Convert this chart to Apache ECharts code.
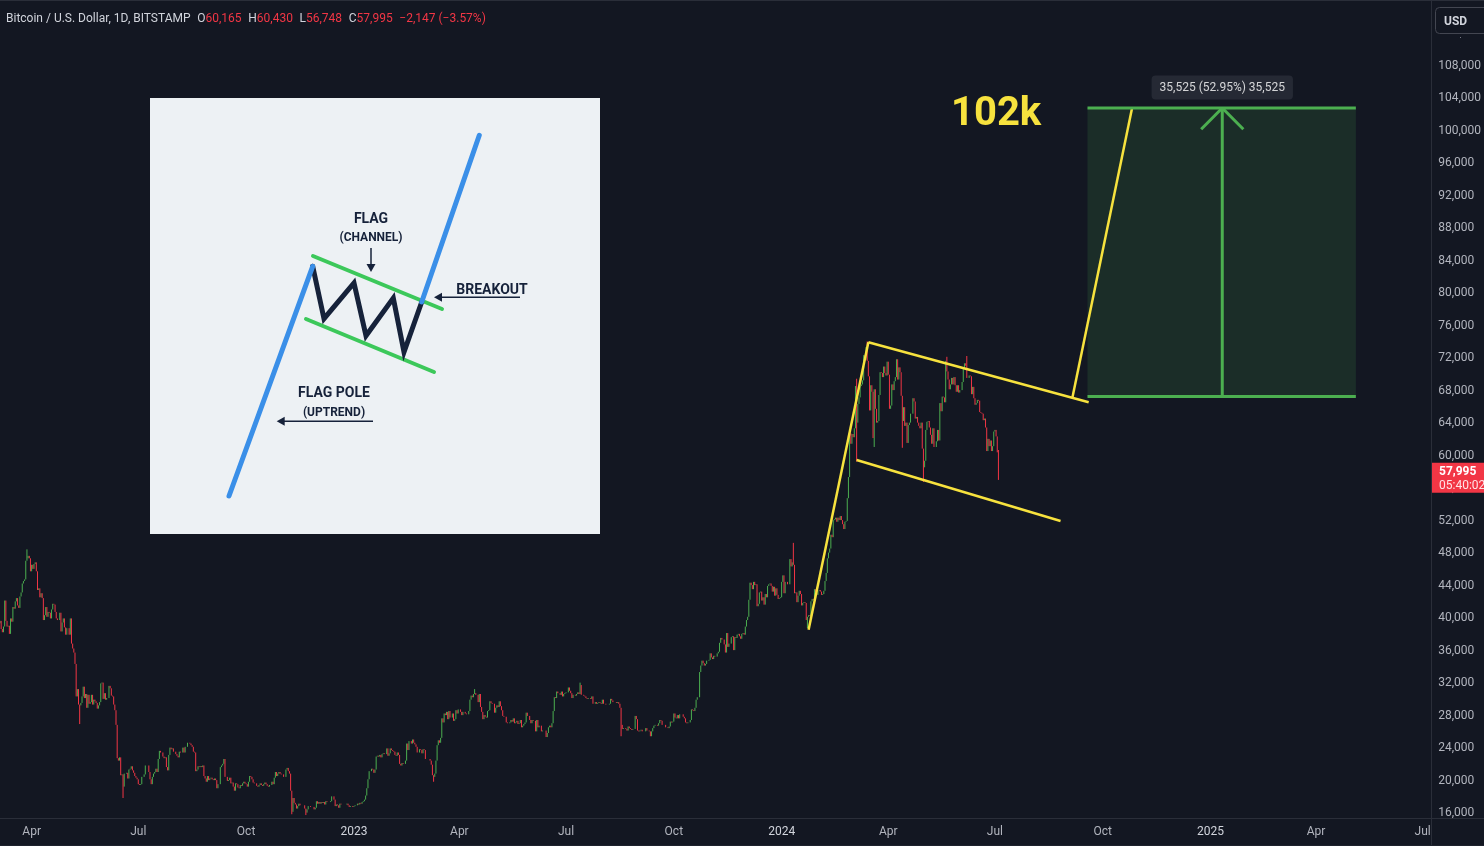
<!DOCTYPE html>
<html><head><meta charset="utf-8">
<script src="https://cdn.jsdelivr.net/npm/echarts@6/dist/echarts.min.js"></script>
<style>html,body{margin:0;padding:0;background:#131722;}#c{width:1484px;height:846px;}</style>
</head><body><div id="c"></div>
<script>
// ---------- DATA ----------
const startDate = '2022-03-05';
const firstOpen = 39100; // close of 2022-03-04
// daily closes in thousands USD
const close2022 = [
 39.4,38.4,38.0,38.7,41.9,39.4,38.7,38.8,37.8,39.7,39.3,41.1,40.9,41.8,42.2,41.3,41.0,42.4,42.9,44.0,44.3,44.5,46.8,47.1,47.4,47.1,45.5,
 46.3,45.8,46.4,46.6,45.5,43.2,43.4,42.3,42.8,42.2,39.5,40.1,41.1,39.9,40.5,40.4,39.7,40.8,41.5,41.4,40.5,39.7,39.5,39.5,40.4,38.1,39.2,39.7,38.6,37.7,
 38.5,38.5,37.7,39.7,36.6,36.0,35.5,34.1,30.1,31.0,29.1,29.0,29.3,30.1,31.3,29.9,30.4,28.7,30.3,29.2,29.4,30.3,29.1,29.7,29.5,29.3,28.6,29.0,29.4,31.7,31.8,
 29.8,30.5,29.7,29.9,29.9,31.4,31.1,30.2,30.1,29.1,28.4,26.6,22.5,22.2,22.6,20.4,20.5,19.0,20.6,20.6,20.7,20.0,21.1,21.2,21.5,21.0,20.7,20.3,20.1,19.9,
 19.3,19.2,19.3,20.2,20.2,20.5,21.6,21.6,21.6,20.8,19.9,19.3,20.2,20.6,20.8,21.2,20.8,22.4,23.4,23.2,23.2,22.7,22.5,22.6,21.4,21.0,22.9,23.8,23.6,23.7,23.3,
 23.3,23.0,22.8,22.6,23.3,23.2,23.2,23.8,23.2,23.9,23.9,24.4,24.4,24.3,24.1,23.9,23.3,23.2,20.9,21.1,21.5,21.4,21.5,21.4,21.6,20.3,20.0,19.6,20.3,19.8,20.0,
 20.1,19.9,19.8,20.0,19.8,18.8,19.3,19.3,21.4,21.6,21.8,22.4,20.2,20.2,19.7,19.8,20.1,19.4,19.5,19.0,18.5,19.4,19.3,18.9,18.8,19.2,19.1,19.4,19.6,19.4,
 19.3,19.0,19.6,20.3,20.2,19.9,19.5,19.4,19.4,19.1,19.0,19.2,19.4,19.2,19.1,19.3,19.5,19.3,19.1,19.0,19.2,19.2,19.6,19.3,20.1,20.8,20.3,20.6,20.8,20.6,20.5,
 20.5,20.2,20.2,21.1,21.3,20.9,20.6,18.5,15.9,17.6,17.0,16.8,16.3,16.6,16.9,16.7,16.7,16.7,16.7,16.3,15.8,16.2,16.6,16.6,16.5,16.5,16.5,16.2,16.4,17.2,
 16.9,17.1,16.9,17.1,17.0,17.1,16.8,17.2,17.1,17.1,17.1,17.2,17.8,17.8,17.4,16.6,16.8,16.7,16.4,16.9,16.8,16.8,16.8,16.8,16.8,16.9,16.7,16.5,16.6,16.6,16.5
];
const close2023 = [
 16.6,16.7,16.7,16.9,16.8,17.0,16.9,17.1,17.2,17.4,17.9,18.8,19.9,20.9,20.9,21.2,21.1,20.7,21.1,22.7,22.8,22.7,22.9,22.6,23.0,23.1,23.0,23.0,23.7,22.8,23.1,
 23.7,23.5,23.4,23.3,22.9,22.8,23.2,22.9,21.8,21.6,21.9,21.8,21.8,22.2,24.3,23.5,24.6,24.6,24.3,24.8,24.4,24.2,23.9,23.2,23.2,23.6,23.5,23.1,
 23.6,23.5,22.4,22.4,22.4,22.4,22.2,21.7,20.4,20.2,20.6,22.2,24.1,24.7,24.4,25.0,27.4,26.9,28.0,27.8,28.2,27.3,28.3,27.5,27.5,28.0,27.1,27.3,28.4,28.0,28.5,
 28.5,28.2,27.8,28.2,28.2,28.0,27.9,27.9,28.3,29.7,30.2,30.0,30.4,30.5,30.3,30.3,29.4,30.4,28.8,28.2,27.3,27.8,27.6,27.5,28.3,28.4,29.5,29.3,29.2,29.2,
 28.1,28.7,29.0,28.8,29.5,28.9,28.4,27.7,27.6,27.6,26.9,26.8,26.8,26.9,27.2,27.0,27.4,26.8,26.9,27.1,26.7,26.8,27.2,26.3,26.5,26.7,26.9,28.1,27.7,27.7,27.2,
 26.8,27.2,27.1,27.1,25.8,27.2,26.3,26.5,26.5,25.8,25.9,25.9,25.9,25.1,25.6,26.3,26.5,26.3,26.8,28.3,30.0,29.9,30.7,30.5,30.5,30.3,30.7,30.1,30.4,30.5,
 30.6,30.6,31.2,30.8,30.5,29.9,30.3,30.3,30.2,30.4,30.6,30.4,31.5,30.3,30.3,30.2,30.1,29.9,29.8,29.9,29.9,29.8,30.1,29.2,29.2,29.4,29.2,29.3,29.4,29.3,29.2,
 29.7,29.2,29.2,29.1,29.1,29.1,29.2,29.8,29.6,29.4,29.4,29.4,29.3,29.4,29.2,28.7,26.6,26.1,26.2,26.2,26.1,25.9,26.4,26.2,26.1,26.0,26.1,26.1,27.7,27.3,25.9,
 25.8,25.9,26.0,25.8,25.8,25.8,26.2,25.9,25.9,25.8,25.2,25.8,26.2,26.5,26.6,26.6,26.5,26.8,27.2,27.1,26.6,26.6,26.6,26.3,26.3,26.2,26.4,27.0,26.9,27.0,
 28.0,27.5,27.4,27.8,27.4,27.9,27.9,27.9,27.6,27.4,26.9,26.8,26.9,26.9,27.2,28.5,28.4,28.3,28.7,29.7,30.0,30.0,33.1,33.9,34.5,34.2,33.9,34.1,34.5,34.5,34.6,
 35.4,34.9,34.7,35.1,35.0,35.0,35.4,35.6,36.7,37.3,37.1,37.1,36.5,35.5,37.9,36.2,36.6,36.6,37.4,37.5,35.8,37.4,37.3,37.7,37.8,37.5,37.2,37.8,37.9,37.7,
 38.7,39.5,39.9,42.0,44.1,43.8,43.3,44.2,43.8,43.9,41.2,41.5,42.9,43.0,41.9,42.3,41.4,42.7,42.3,43.7,43.9,44.0,43.7,43.0,43.6,42.5,43.4,42.6,42.1,42.2,42.3
];
const close2024 = [
 44.2,45.0,42.8,44.2,44.2,43.9,43.9,47.0,46.1,46.6,46.3,42.8,42.9,41.7,42.5,43.1,42.7,41.3,41.6,41.7,41.6,39.5,39.9,40.1,40.0,41.8,42.1,42.0,43.3,42.9,42.6,
 43.1,43.2,43.0,42.6,42.7,43.1,44.3,45.3,47.1,47.8,48.3,50.0,49.7,51.8,51.9,52.1,51.6,52.1,51.8,52.3,51.8,51.3,50.7,51.6,51.7,54.5,57.1,62.5,61.2,
 62.4,62.0,63.1,68.3,63.8,66.1,66.9,68.3,68.5,69.0,72.1,71.5,73.1,71.4,69.5,65.3,68.4,67.6,61.9,67.9,65.5,63.8,64.0,67.2,70.0,69.9,69.4,70.7,69.9,69.6,71.3,
 69.7,65.5,65.9,68.5,67.8,68.9,69.4,71.6,69.1,70.6,70.0,67.1,64.0,65.7,63.4,63.8,61.3,63.5,63.8,64.9,64.9,66.8,66.4,64.3,64.5,63.8,63.4,63.1,63.8,60.6,
 58.3,59.1,62.9,63.9,64.0,63.2,62.3,61.2,63.1,60.8,60.8,61.5,62.9,61.6,66.2,65.2,67.0,66.9,66.3,71.4,70.1,69.1,67.9,68.5,69.3,68.5,69.4,68.4,67.6,68.4,67.5,
 67.8,67.8,68.8,70.6,71.1,70.8,69.3,69.3,69.6,69.5,67.3,68.2,66.8,66.0,66.2,66.6,66.5,65.1,65.0,64.9,64.1,64.3,63.2,60.3,61.8,60.9,61.6,60.3,60.9,62.7,
 62.9,62.1,60.142,57.995
];
// notable intraday extremes: [date, high, low]
const wickExtremes = [
 ['2022-03-28',48200,null],['2022-05-12',null,26700],['2022-06-18',null,17600],
 ['2022-11-09',null,15600],['2022-11-21',null,15500],['2023-03-10',null,19600],
 ['2023-04-14',31000,null],['2023-07-13',31800,null],['2023-08-17',null,25200],
 ['2024-01-11',49000,null],['2024-01-23',null,38500],['2024-03-05',69200,59000],
 ['2024-03-14',73800,null],['2024-03-20',null,60800],['2024-04-13',null,60700],
 ['2024-05-01',null,56500],['2024-05-21',71900,null],['2024-06-07',72000,null]
];
const lastCandle = {date:'2024-07-04', open:60165, high:60430, low:56748, close:57995};
const symbolTitle = 'Bitcoin / U.S. Dollar, 1D, BITSTAMP';
const countdown = '05:40:02';

const yTicks = [16000,20000,24000,28000,32000,36000,40000,44000,48000,52000,56000,60000,64000,68000,72000,76000,80000,84000,88000,92000,96000,100000,104000,108000];
const xTicks = ['2022-04-01','2022-07-01','2022-10-01','2023-01-01','2023-04-01','2023-07-01','2023-10-01','2024-01-01','2024-04-01','2024-07-01','2024-10-01','2025-01-01','2025-04-01','2025-07-01'];
const xTickLabels = ['Apr','Jul','Oct','2023','Apr','Jul','Oct','2024','Apr','Jul','Oct','2025','Apr','Jul'];
const xRange = ['2022-03-05T00:00:00Z','2025-07-07T10:00:00Z'];
const yRange = [15138, 115815];

// annotations (data coordinates)
const flagPole   = [['2024-01-24',38300],['2024-03-15',73700]];
const flagTop    = [['2024-03-15',73700],['2024-09-19',66300]];
const flagBottom = [['2024-03-05',59200],['2024-08-26',51700]];
const breakout   = [['2024-09-05',66800],['2024-10-26',102500]];
const targetBox  = {from:'2024-09-18', to:'2025-05-05', bottom:67000, top:102525, arrowAt:'2025-01-11', chevL:'2024-12-24', chevR:'2025-01-29', chevY:99900};
const targetText = {date:'2024-07-02', price:101600, text:'102k'};
const moveLabel  = {diff:35525, pct:52.95};

// ---------- BUILD ----------
const DAY = 86400000;
const T = s => Date.parse(s.length === 10 ? s + 'T00:00:00Z' : s);
const UP = '#4caf50', DOWN = '#f23645', YEL = '#f7e23e', GRN = '#4caf50';
const closes = [...close2022, ...close2023, ...close2024].map(v => Math.round(v * 1000));
const t0 = T(startDate);
const ext = {};
wickExtremes.forEach(([s, h, l]) => { ext[T(s)] = [h, l]; });
const tLast = T(lastCandle.date);
let prev = firstOpen;
const candles = closes.map((c, i) => {
  const t = t0 + i * DAY;
  let o = prev, hi, lo;
  if (t === tLast) { o = lastCandle.open; hi = lastCandle.high; lo = lastCandle.low; }
  else {
    hi = Math.max(o, c); lo = Math.min(o, c);
    const e = ext[t];
    if (e) { if (e[0] != null) hi = Math.max(hi, e[0]); if (e[1] != null) lo = Math.min(lo, e[1]); }
  }
  prev = c;
  return [t, o, c, lo, hi];
});
const prevClose = closes[closes.length - 2];
const chg = lastCandle.close - prevClose;
const pct = chg / prevClose * 100;
const fmt = v => Math.round(v).toLocaleString('en-US');
const minus = v => (v < 0 ? '\u2212' : '+');

const xLabelMap = {};
xTicks.forEach((s, i) => { xLabelMap[T(s)] = xTickLabels[i]; });

const seg = (pts, color, w, z) => ({
  type: 'line', data: pts.map(p => [T(p[0]), p[1]]), symbol: 'none', silent: true, z: z || 5,
  lineStyle: {color, width: w}, animation: false
});

const series = [
  {
    type: 'candlestick', name: 'BTC', data: candles, silent: true, z: 2,
    dimensions: ['date','open','close','lowest','highest'],
    encode: {x: 'date', y: ['open','close','lowest','highest']},
    barWidth: 0.5,
    itemStyle: {color: UP, color0: DOWN, borderColor: UP, borderColor0: DOWN, borderWidth: 1},
    markArea: {
      silent: true,
      itemStyle: {color: 'rgba(76,175,80,0.15)'},
      data: [[{coord: [T(targetBox.from), targetBox.bottom]}, {coord: [T(targetBox.to), targetBox.top]}]]
    }
  },
  seg(flagPole, YEL, 2.5), seg(flagTop, YEL, 2.5), seg(flagBottom, YEL, 2.5), seg(breakout, YEL, 2.5),
  seg([[targetBox.from, targetBox.top],[targetBox.to, targetBox.top]], GRN, 3, 6),
  seg([[targetBox.from, targetBox.bottom],[targetBox.to, targetBox.bottom]], GRN, 3, 6),
  seg([[targetBox.arrowAt, targetBox.bottom],[targetBox.arrowAt, targetBox.top]], GRN, 3, 6),
  seg([[targetBox.chevL, targetBox.chevY],[targetBox.arrowAt, targetBox.top],[targetBox.chevR, targetBox.chevY]], GRN, 3, 6),
  {
    type: 'scatter', silent: true, z: 10, symbolSize: 1, itemStyle: {color: 'transparent'},
    data: [[T(targetBox.arrowAt), targetBox.top]],
    label: {show: true, position: 'top', distance: 8, formatter: fmt(moveLabel.diff) + ' (' + moveLabel.pct.toFixed(2) + '%) ' + fmt(moveLabel.diff),
      backgroundColor: '#2a2e39', borderRadius: 4, padding: [7, 8, 5, 8], color: '#ffffff', fontSize: 12, fontFamily: 'Roboto'}
  },
  {
    type: 'scatter', silent: true, z: 10, symbolSize: 1, itemStyle: {color: 'transparent'},
    data: [[T(targetText.date), targetText.price]],
    label: {show: true, position: 'inside', formatter: targetText.text, color: YEL, opacity: 1, textBorderWidth: 0,
      fontSize: 40, fontWeight: 'bold', fontFamily: 'Roboto'}
  }
];

// inset diagram (static illustration)
const NAVY = '#16223a', BLUE = '#3a8fe8', LG = '#3cc85a';
const dfont = (sz) => 'bold ' + sz + "px 'Liberation Sans Narrow', Roboto, sans-serif";
const arrowHead = (tx, ty, dir) => {
  if (dir === 'left') return {type: 'polygon', shape: {points: [[tx, ty], [tx + 8, ty - 4.5], [tx + 8, ty + 4.5]]}, style: {fill: NAVY}};
  return {type: 'polygon', shape: {points: [[tx, ty], [tx - 4.5, ty - 8], [tx + 4.5, ty - 8]]}, style: {fill: NAVY}};
};
const inset = [
  {type: 'rect', shape: {x: 150, y: 98, width: 450, height: 436}, style: {fill: '#edf1f4'}},
  {type: 'line', shape: {x1: 306, y1: 319, x2: 434, y2: 372}, style: {stroke: LG, lineWidth: 4, lineCap: 'round'}},
  {type: 'line', shape: {x1: 313, y1: 256, x2: 442, y2: 309}, style: {stroke: LG, lineWidth: 4, lineCap: 'round'}},
  {type: 'polyline', shape: {points: [[312.7,266.3],[324,318.7],[354,283],[366,335.7],[393.3,298],[404,352],[421.7,302]]},
    style: {stroke: NAVY, lineWidth: 5, lineJoin: 'miter', lineCap: 'round', fill: null}},
  {type: 'line', shape: {x1: 229, y1: 496, x2: 312.7, y2: 266.3}, style: {stroke: BLUE, lineWidth: 5, lineCap: 'round'}},
  {type: 'line', shape: {x1: 421.7, y1: 302, x2: 479.3, y2: 135.3}, style: {stroke: BLUE, lineWidth: 5, lineCap: 'round'}},
  {type: 'text', style: {text: 'FLAG', x: 371, y: 219, fill: NAVY, font: dfont(14), align: 'center', verticalAlign: 'middle'}},
  {type: 'text', style: {text: '(CHANNEL)', x: 371, y: 238, fill: NAVY, font: dfont(12), align: 'center', verticalAlign: 'middle'}},
  {type: 'line', shape: {x1: 371, y1: 248, x2: 371, y2: 266}, style: {stroke: NAVY, lineWidth: 1.5}},
  arrowHead(371, 272, 'down'),
  {type: 'text', style: {text: 'BREAKOUT', x: 492, y: 290, fill: NAVY, font: dfont(14), align: 'center', verticalAlign: 'middle'}},
  {type: 'line', shape: {x1: 520, y1: 297.3, x2: 440, y2: 297.3}, style: {stroke: NAVY, lineWidth: 1.5}},
  arrowHead(434, 297.3, 'left'),
  {type: 'text', style: {text: 'FLAG POLE', x: 334, y: 393, fill: NAVY, font: dfont(14), align: 'center', verticalAlign: 'middle'}},
  {type: 'text', style: {text: '(UPTREND)', x: 334, y: 412.5, fill: NAVY, font: dfont(12), align: 'center', verticalAlign: 'middle'}},
  {type: 'line', shape: {x1: 373, y1: 421.3, x2: 282, y2: 421.3}, style: {stroke: NAVY, lineWidth: 1.5}},
  arrowHead(276.7, 421.3, 'left')
].map(e => Object.assign(e, {z: 100, silent: true}));

const headerText = '{n|' + symbolTitle + '}  {k|O}{r|' + fmt(lastCandle.open) + '}  {k|H}{r|' + fmt(lastCandle.high) +
  '}  {k|L}{r|' + fmt(lastCandle.low) + '}  {k|C}{r|' + fmt(lastCandle.close) + '}  {r|' + minus(chg) + fmt(Math.abs(chg)) +
  ' (' + minus(chg) + Math.abs(pct).toFixed(2) + '%)}';

const chrome = [
  {type: 'rect', shape: {x: 0, y: 0, width: 1484, height: 1}, style: {fill: '#2a2e39'}},
  {type: 'rect', shape: {x: 0, y: 818, width: 1484, height: 1}, style: {fill: '#2a2e39'}},
  {type: 'rect', shape: {x: 1431, y: 0, width: 1, height: 846}, style: {fill: '#2a2e39'}},
  {type: 'rect', shape: {x: 0, y: 845, width: 1484, height: 1}, style: {fill: '#1e222d'}},
  {type: 'text', style: {text: headerText, x: 6, y: 19, verticalAlign: 'middle',
    rich: {n: {fill: '#d1d4dc', fontSize: 12, fontFamily: 'Roboto'}, k: {fill: '#d1d4dc', fontSize: 12, fontFamily: 'Roboto'}, r: {fill: DOWN, fontSize: 12, fontFamily: 'Roboto'}}}},
  {type: 'rect', shape: {x: 1435.5, y: 7.5, width: 60, height: 26, r: 4}, style: {fill: '#131722', stroke: '#434651', lineWidth: 1}},
  {type: 'text', style: {text: 'USD', x: 1444, y: 22, fill: '#d1d4dc', font: 'bold 12px Roboto', verticalAlign: 'middle'}},
  {type: 'rect', shape: {x: 1460, y: 37, width: 1, height: 1}, style: {fill: '#787b86'}}
].map(e => Object.assign(e, {z: 100, silent: true}));

const chart = echarts.init(document.getElementById('c'), null, {renderer: 'canvas'});
chart.setOption({
  backgroundColor: '#131722',
  animation: false,
  grid: {left: 0, right: 53, top: 0, bottom: 28, containLabel: false},
  xAxis: {
    type: 'value', min: T(xRange[0]), max: T(xRange[1]), scale: true,
    axisLine: {show: false}, axisTick: {show: false}, splitLine: {show: false},
    axisLabel: {
      customValues: xTicks.map(T), margin: 8, fontSize: 12, fontFamily: 'Roboto', color: '#b2b5be',
      formatter: v => { const s = xLabelMap[v] || ''; return /^\d{4}$/.test(s) ? '{y|' + s + '}' : '{m|' + s + '}'; },
      rich: {y: {color: '#d1d4dc', fontSize: 12, fontFamily: 'Roboto'}, m: {color: '#b2b5be', fontSize: 12, fontFamily: 'Roboto'}}
    }
  },
  yAxis: {
    type: 'value', position: 'right', min: yRange[0], max: yRange[1], scale: true,
    axisLine: {show: false}, axisTick: {show: false}, splitLine: {show: false},
    axisLabel: {customValues: yTicks, margin: 8, fontSize: 12, fontFamily: 'Roboto', color: '#b2b5be',
      formatter: v => '{p|' + fmt(v) + '}',
      rich: {p: {padding: [5, 0, 0, 0], color: '#b2b5be', fontSize: 12, fontFamily: 'Roboto'}}}
  },
  series,
  graphic: {elements: [...chrome, ...inset]}
});

// last price tag on the price scale
const py = chart.convertToPixel({yAxisIndex: 0}, lastCandle.close);
chart.setOption({graphic: {elements: [
  {id: 'ptag', type: 'rect', shape: {x: 1432, y: py - 7, width: 52, height: 30}, style: {fill: DOWN}, z: 101, silent: true},
  {id: 'ptxt', type: 'text', style: {text: fmt(lastCandle.close), x: 1439, y: py + 2, fill: '#ffffff', font: 'bold 12px Roboto', verticalAlign: 'middle'}, z: 102, silent: true},
  {id: 'pcd', type: 'text', style: {text: countdown, x: 1439, y: py + 16, fill: '#ffe3e6', font: '12px Roboto', verticalAlign: 'middle'}, z: 102, silent: true}
]}});
</script>
</body></html>
